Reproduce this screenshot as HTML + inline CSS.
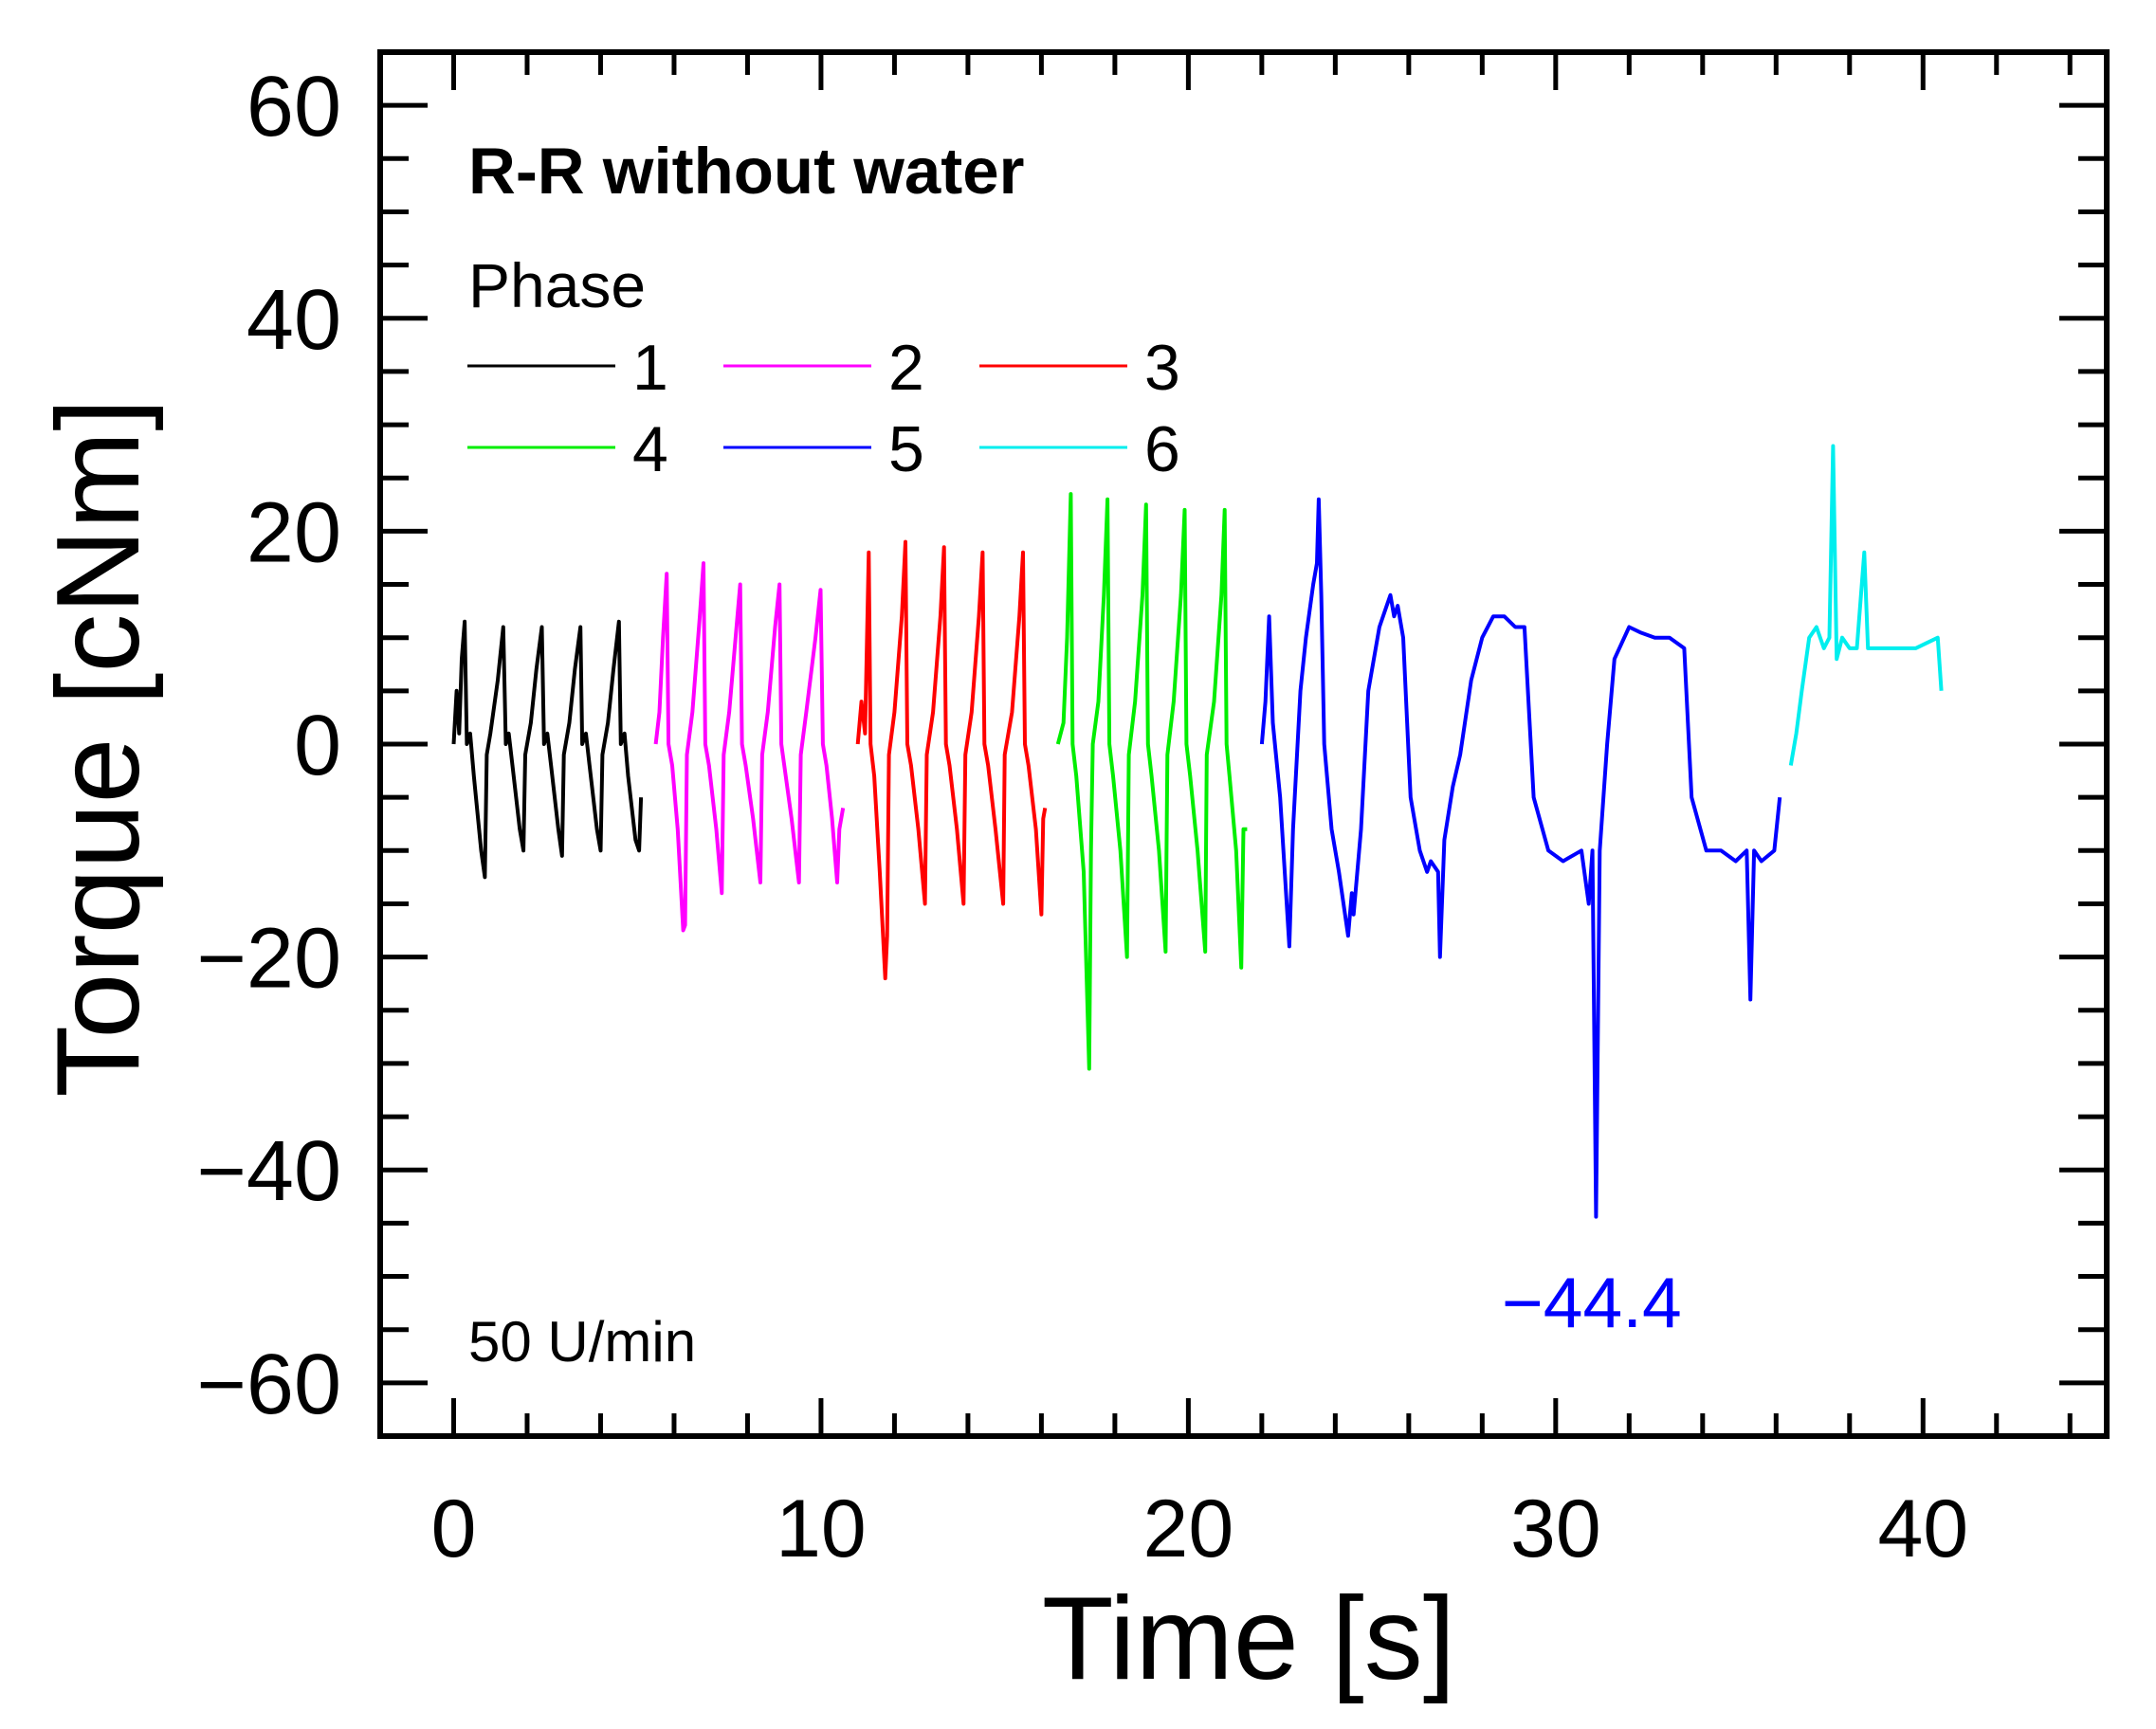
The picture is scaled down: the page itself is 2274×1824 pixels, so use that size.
<!DOCTYPE html>
<html>
<head>
<meta charset="utf-8">
<style>
  html,body{margin:0;padding:0;background:#fff;}
  svg{display:block;}
  text{font-family:"Liberation Sans",Arial,sans-serif;}
</style>
</head>
<body>
<svg id="chart" xmlns="http://www.w3.org/2000/svg" width="2274" height="1824" viewBox="0 0 2274 1824">
  <rect x="0" y="0" width="2274" height="1824" fill="#fff"/>
  <g id="series"></g>
  <g id="axes"></g>
  <text x="494" y="204" font-size="69" font-weight="bold">R-R without water</text>
  <text x="494" y="324" font-size="66">Phase</text>
  <g id="legend"></g>
  <text x="494" y="1436" font-size="60">50 U/min</text>
  <text x="1584" y="1400" font-size="75" fill="#0000ff">−44.4</text>
  <text x="1317" y="1771" font-size="124" text-anchor="middle">Time [s]</text>
  <text x="0" y="0" font-size="124" text-anchor="middle" transform="translate(146,789) rotate(-90)">Torque [cNm]</text>
</svg>
<script>
// ---- data ----
const phaseNames = ["1","2","3","4","5","6"];
const phaseColors = ["#000000","#ff00ff","#ff0000","#00ee00","#0000ff","#00eeee"];
const xTickLabels = [0,10,20,30,40];
const yTickLabels = [60,40,20,0,-20,-40,-60];

const phase1Time = [0,0.08,0.15,0.22,0.3,0.36,0.45,0.55,0.75,0.85,0.9,1.0,1.2,1.35,1.42,1.5,1.6,1.8,1.9,1.95,2.1,2.25,2.4,2.46,2.55,2.65,2.85,2.95,3.0,3.15,3.3,3.45,3.5,3.6,3.7,3.9,4.0,4.05,4.2,4.35,4.5,4.55,4.65,4.75,4.95,5.05,5.1];
const phase1Torque = [0,5,1,8,11.5,0,1,-3,-10,-12.5,-1,1,6,11,0,1,-2,-8,-10,-1,2,7,11,0,1,-2,-8,-10.5,-1,2,7,11,0,1,-2,-8,-10,-1,2,7,11.5,0,1,-3,-9,-10,-5];

const phase2Time = [5.5,5.6,5.7,5.8,5.85,5.95,6.1,6.25,6.3,6.35,6.5,6.7,6.8,6.85,6.95,7.15,7.3,7.35,7.5,7.7,7.8,7.85,7.95,8.15,8.35,8.4,8.55,8.75,8.87,8.92,9.0,9.2,9.4,9.45,9.6,9.85,9.99,10.05,10.15,10.3,10.44,10.5,10.6];
const phase2Torque = [0,3,10,16,0,-2,-8,-17.5,-17,-1,3,12,17,0,-2,-8,-14,-1,3,11,15,0,-2,-7,-13,-1,3,11,15,0,-2,-7,-13,-1,3,10,14.5,0,-2,-7,-13,-8,-6];

const phase3Time = [11.0,11.1,11.2,11.3,11.35,11.45,11.6,11.75,11.8,11.85,12.0,12.2,12.3,12.35,12.45,12.65,12.83,12.88,13.05,13.25,13.35,13.4,13.5,13.7,13.88,13.93,14.1,14.3,14.4,14.45,14.55,14.75,14.96,15.0,15.2,15.4,15.5,15.55,15.65,15.85,16.0,16.05,16.1];
const phase3Torque = [0,4,1,18,0,-3,-12,-22,-18,-1,3,12,19,0,-2,-8,-15,-1,3,12,18.5,0,-2,-8,-15,-1,3,12,18,0,-2,-8,-15,-1,3,12,18,0,-2,-8,-16,-7,-6];

const phase4Time = [16.45,16.6,16.7,16.8,16.85,16.95,17.15,17.3,17.35,17.4,17.55,17.7,17.8,17.85,17.95,18.15,18.33,18.38,18.55,18.75,18.85,18.9,19.0,19.2,19.38,19.43,19.6,19.8,19.9,19.95,20.05,20.25,20.46,20.5,20.7,20.9,20.99,21.04,21.12,21.3,21.44,21.5,21.6];
const phase4Torque = [0,2,10,23.5,0,-3,-12,-30.5,-10,0,4,14,23,0,-3,-10,-20,-1,4,14,22.5,0,-3,-10,-19.5,-1,4,14,22,0,-3,-10,-19.5,-1,4,14,22,0,-3,-10,-21,-8,-8];

const phase5Time = [22.0,22.1,22.2,22.3,22.5,22.75,22.85,23.05,23.2,23.4,23.5,23.55,23.62,23.7,23.9,24.1,24.35,24.45,24.5,24.7,24.9,25.2,25.4,25.5,25.6,25.7,25.85,26.05,26.3,26.5,26.6,26.8,26.85,26.97,27.2,27.4,27.7,28.0,28.3,28.6,28.9,29.15,29.4,29.8,30.2,30.7,30.9,31.0,31.1,31.2,31.4,31.6,32.0,32.3,32.7,33.1,33.5,33.7,34.1,34.5,34.9,35.2,35.3,35.4,35.6,35.95,36.1];
const phase5Torque = [0,4,12,2,-5,-19,-8,5,10,15,17,23,14,0,-8,-12,-18,-14,-16,-8,5,11,13,14,12,13,10,-5,-10,-12,-11,-12,-20,-9,-4,-1,6,10,12,12,11,11,-5,-10,-11,-10,-15,-10,-44.4,-10,0,8,11,10.5,10,10,9,-5,-10,-10,-11,-10,-24,-10,-11,-10,-5];

const phase6Time = [36.4,36.55,36.7,36.9,37.1,37.3,37.45,37.55,37.65,37.8,38.0,38.2,38.4,38.5,38.8,39.3,39.8,40.4,40.5];
const phase6Torque = [-2,1,5,10,11,9,10,28,8,10,9,9,18,9,9,9,9,10,5];

const phaseTimes = [phase1Time,phase2Time,phase3Time,phase4Time,phase5Time,phase6Time];
const phaseTorques = [phase1Torque,phase2Torque,phase3Torque,phase4Torque,phase5Torque,phase6Torque];

// ---- layout ----
const L = 401, R = 2222, T = 55, B = 1515;
const XMIN = -2, XMAX = 45, YMIN = -65, YMAX = 65;
function xs(v){ return L + (v - XMIN) / (XMAX - XMIN) * (R - L); }
function ys(v){ return B - (v - YMIN) / (YMAX - YMIN) * (B - T); }
const NS = "http://www.w3.org/2000/svg";
function mk(tag, attrs){ const e = document.createElementNS(NS, tag); for (const k in attrs) e.setAttribute(k, attrs[k]); return e; }

// series
const sg = document.getElementById('series');
phaseTimes.forEach((ts, i) => {
  const vs = phaseTorques[i];
  const d = ts.map((t, j) => (j ? 'L' : 'M') + xs(t).toFixed(1) + ' ' + ys(vs[j]).toFixed(1)).join(' ');
  const p = mk('path', {d: d, fill: 'none', stroke: phaseColors[i], 'stroke-width': 4, 'stroke-linejoin': 'round'});
  
  
  sg.appendChild(p);
});

// axes
const ag = document.getElementById('axes');
const frame = mk('rect', {x: L, y: T, width: R - L, height: B - T, fill: 'none', stroke: '#000', 'stroke-width': 6});


ag.appendChild(frame);
for (let v = 0; v <= 44; v += 2) {
  const major = v % 10 === 0, len = major ? 40 : 24, x = xs(v);
  const t1 = mk('line', {x1: x, x2: x, y1: B, y2: B - len, stroke: '#000', 'stroke-width': 5});
  
  
  ag.appendChild(t1);
  const t2 = mk('line', {x1: x, x2: x, y1: T, y2: T + len, stroke: '#000', 'stroke-width': 5});
  
  
  ag.appendChild(t2);
}
for (let v = -60; v <= 60; v += 5) {
  const major = v % 20 === 0, len = major ? 50 : 30, y = ys(v);
  const t1 = mk('line', {x1: L, x2: L + len, y1: y, y2: y, stroke: '#000', 'stroke-width': 5});
  
  
  ag.appendChild(t1);
  const t2 = mk('line', {x1: R, x2: R - len, y1: y, y2: y, stroke: '#000', 'stroke-width': 5});
  
  
  ag.appendChild(t2);
}
xTickLabels.forEach(v => {
  const t = mk('text', {x: xs(v), y: 1642, 'font-size': 86, 'text-anchor': 'middle'});
  t.textContent = v;
  
  
  ag.appendChild(t);
});
yTickLabels.forEach(v => {
  const t = mk('text', {x: 360, y: ys(v) + 32, 'font-size': 90, 'text-anchor': 'end'});
  t.textContent = v < 0 ? '−' + Math.abs(v) : String(v);
  
  
  ag.appendChild(t);
});

// legend
const lg = document.getElementById('legend');
phaseNames.forEach((n, i) => {
  const col = i % 3, row = Math.floor(i / 3);
  const x0 = 493 + col * 270, y = 386 + row * 86;
  const g = mk('g', {});
  
  
  g.appendChild(mk('line', {x1: x0, x2: x0 + 156, y1: y, y2: y, stroke: phaseColors[i], 'stroke-width': 3}));
  const t = mk('text', {x: x0 + 174, y: y + 25, 'font-size': 68});
  t.textContent = n;
  g.appendChild(t);
  lg.appendChild(g);
});
</script>
</body>
</html>
